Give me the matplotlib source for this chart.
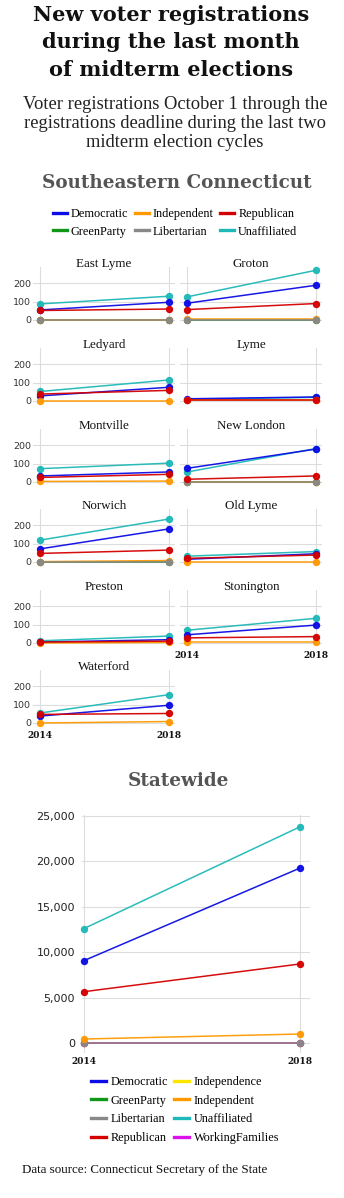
import matplotlib
matplotlib.use("Agg")
import matplotlib.pyplot as plt
from matplotlib.lines import Line2D
import numpy as np

# ---- data ----
years = [2014, 2018]
towns = ["East Lyme", "Groton", "Ledyard", "Lyme", "Montville", "New London",
         "Norwich", "Old Lyme", "Preston", "Stonington", "Waterford"]
nan = np.nan
unaffiliated = [[88, 130], [127, 272], [52, 115], [8, 20], [73, 103], [55, 183],
                [120, 235], [32, 57], [12, 38], [70, 135], [55, 155]]
democratic = [[55, 97], [92, 190], [28, 75], [12, 22], [33, 55], [75, 180],
              [72, 181], [15, 45], [5, 18], [45, 98], [38, 97]]
greenparty = [[0, 0], [0, 0], [nan, nan], [nan, nan], [nan, nan], [0, 0],
              [0, 0], [nan, nan], [nan, nan], [nan, nan], [nan, nan]]
independent = [[0, 0], [5, 5], [2, 2], [4, 4], [3, 5], [2, 2],
               [2, 8], [0, 0], [0, 3], [3, 3], [0, 8]]
libertarian = [[0, 0], [0, 0], [nan, nan], [nan, nan], [nan, nan], [0, 0],
               [0, 0], [nan, nan], [nan, nan], [nan, nan], [nan, nan]]
republican = [[52, 60], [57, 90], [38, 58], [6, 6], [25, 42], [15, 33],
              [47, 65], [20, 38], [5, 10], [28, 35], [47, 52]]

state_democratic = [9070, 19260]
state_greenparty = [0, 0]
state_independence = [0, 0]
state_independent = [440, 990]
state_libertarian = [0, 0]
state_republican = [5650, 8700]
state_unaffiliated = [12600, 23800]
state_workingfamilies = [0, 0]

colors = {"Democratic": "#0c0ce6", "Independent": "#ff9900", "Republican": "#d40000",
          "GreenParty": "#109618", "Libertarian": "#888888", "Unaffiliated": "#1fb8b8",
          "Independence": "#ffe600", "WorkingFamilies": "#dd11ee"}

W, H = 344, 1198
fig = plt.figure(figsize=(W / 100, H / 100), dpi=100, facecolor="white")


def px_axes(left, top, width, height):
    return fig.add_axes([left / W, 1 - (top + height) / H, width / W, height / H])


def fy(y):
    return 1 - y / H


SERIF = "Liberation Serif"
BOLD = "DejaVu Serif"

# ---- titles ----
for txt, yb in zip(["New voter registrations", "during the last month", "of midterm elections"],
                   [21, 48.5, 76]):
    fig.text(171 / W, fy(yb), txt, ha="center", va="baseline", fontsize=15,
             fontweight="bold", family=BOLD, color="#111111")
for txt, yb in zip(["Voter registrations October 1 through the",
                    "registrations deadline during the last two",
                    "midterm election cycles"], [109, 128, 147]):
    fig.text(175 / W, fy(yb), txt, ha="center", va="baseline", fontsize=13.3,
             family=SERIF, color="#222222")
fig.text(177 / W, fy(188), "Southeastern Connecticut", ha="center", va="baseline",
         fontsize=13.2, fontweight="bold", family=BOLD, color="#555555")
fig.text(178 / W, fy(786), "Statewide", ha="center", va="baseline",
         fontsize=13.2, fontweight="bold", family=BOLD, color="#555555")
fig.text(22 / W, fy(1173), "Data source: Connecticut Secretary of the State",
         ha="left", va="baseline", fontsize=9.4, family=SERIF, color="#111111")

# ---- small multiples ----
town_series = [("Unaffiliated", unaffiliated), ("Democratic", democratic),
               ("GreenParty", greenparty), ("Independent", independent),
               ("Libertarian", libertarian), ("Republican", republican)]
row_zero = [320, 401, 482, 562, 643, 723]
col_left = [33, 180]

for i, town in enumerate(towns):
    r, c = divmod(i, 2)
    y0 = row_zero[r]
    ax = px_axes(col_left[c], y0 - 53, 142, 55)
    for z, (name, vals) in enumerate(town_series):
        ax.plot(years, vals[i], color=colors[name], lw=1.1, marker="o", ms=4.3,
                alpha=0.95, zorder=3 + z, clip_on=False)
    ax.set_xlim(2013.77, 2018.19)
    ax.set_ylim(-11, 290)
    ax.set_yticks([0, 100, 200])
    ax.set_xticks(years)
    ax.grid(color="#dddddd", lw=0.8)
    ax.set_axisbelow(True)
    for s in ax.spines.values():
        s.set_visible(False)
    ax.tick_params(length=0, pad=1.5)
    if c == 0:
        ax.set_yticklabels(["0", "100", "200"], fontsize=6.8, family="DejaVu Sans",
                           color="#333333")
    else:
        ax.set_yticklabels([])
    if town in ("Stonington", "Waterford"):
        ax.set_xticklabels(["2014", "2018"], fontsize=6.5, family=BOLD,
                           fontweight="bold", color="#111111")
        ax.tick_params(axis="x", pad=4)
    else:
        ax.set_xticklabels([])
    fig.text((col_left[c] + 71) / W, fy(y0 - 53), town, ha="center", va="baseline",
             fontsize=9.4, family=SERIF, color="#111111")

# top legend
top_names = ["Democratic", "GreenParty", "Independent", "Libertarian", "Republican", "Unaffiliated"]
handles = [Line2D([], [], color=colors[n], lw=2.4) for n in top_names]
fig.legend(handles, top_names, loc="center", bbox_to_anchor=(175 / W, fy(223)),
           ncol=3, frameon=False, handlelength=1.15, handletextpad=0.35,
           columnspacing=0.5, labelspacing=0.45,
           prop={"family": SERIF, "size": 8.8})

# ---- statewide ----
ax = px_axes(82, 815, 228, 238)
state_series = [("GreenParty", state_greenparty), ("Independence", state_independence),
                ("WorkingFamilies", state_workingfamilies), ("Libertarian", state_libertarian),
                ("Independent", state_independent), ("Republican", state_republican),
                ("Democratic", state_democratic), ("Unaffiliated", state_unaffiliated)]
for z, (name, vals) in enumerate(state_series):
    ax.plot(years, vals, color=colors[name], lw=1.1, marker="o", ms=4.3,
            alpha=0.95, zorder=3 + z, clip_on=False)
ax.set_xlim(2013.963, 2018.185)
ax.set_ylim(-1100, 25100)
ax.set_yticks([0, 5000, 10000, 15000, 20000, 25000])
ax.set_yticklabels(["0", "5,000", "10,000", "15,000", "20,000", "25,000"],
                   fontsize=8, family="DejaVu Sans", color="#222222")
ax.set_xticks(years)
ax.set_xticklabels(["2014", "2018"], fontsize=6.5, family=BOLD, fontweight="bold",
                   color="#111111")
ax.grid(color="#dddddd", lw=0.8)
ax.set_axisbelow(True)
for s in ax.spines.values():
    s.set_visible(False)
ax.tick_params(length=0)
ax.tick_params(axis="y", pad=5)
ax.tick_params(axis="x", pad=3)

state_names = ["Democratic", "GreenParty", "Libertarian", "Republican",
               "Independence", "Independent", "Unaffiliated", "WorkingFamilies"]
handles = [Line2D([], [], color=colors[n], lw=2.4) for n in state_names]
fig.legend(handles, state_names, loc="center", bbox_to_anchor=(185 / W, fy(1110)),
           ncol=2, frameon=False, handlelength=1.25, handletextpad=0.35,
           columnspacing=0.5, labelspacing=0.55,
           prop={"family": SERIF, "size": 8.8})

fig.savefig("out.png", dpi=100, facecolor="white")
